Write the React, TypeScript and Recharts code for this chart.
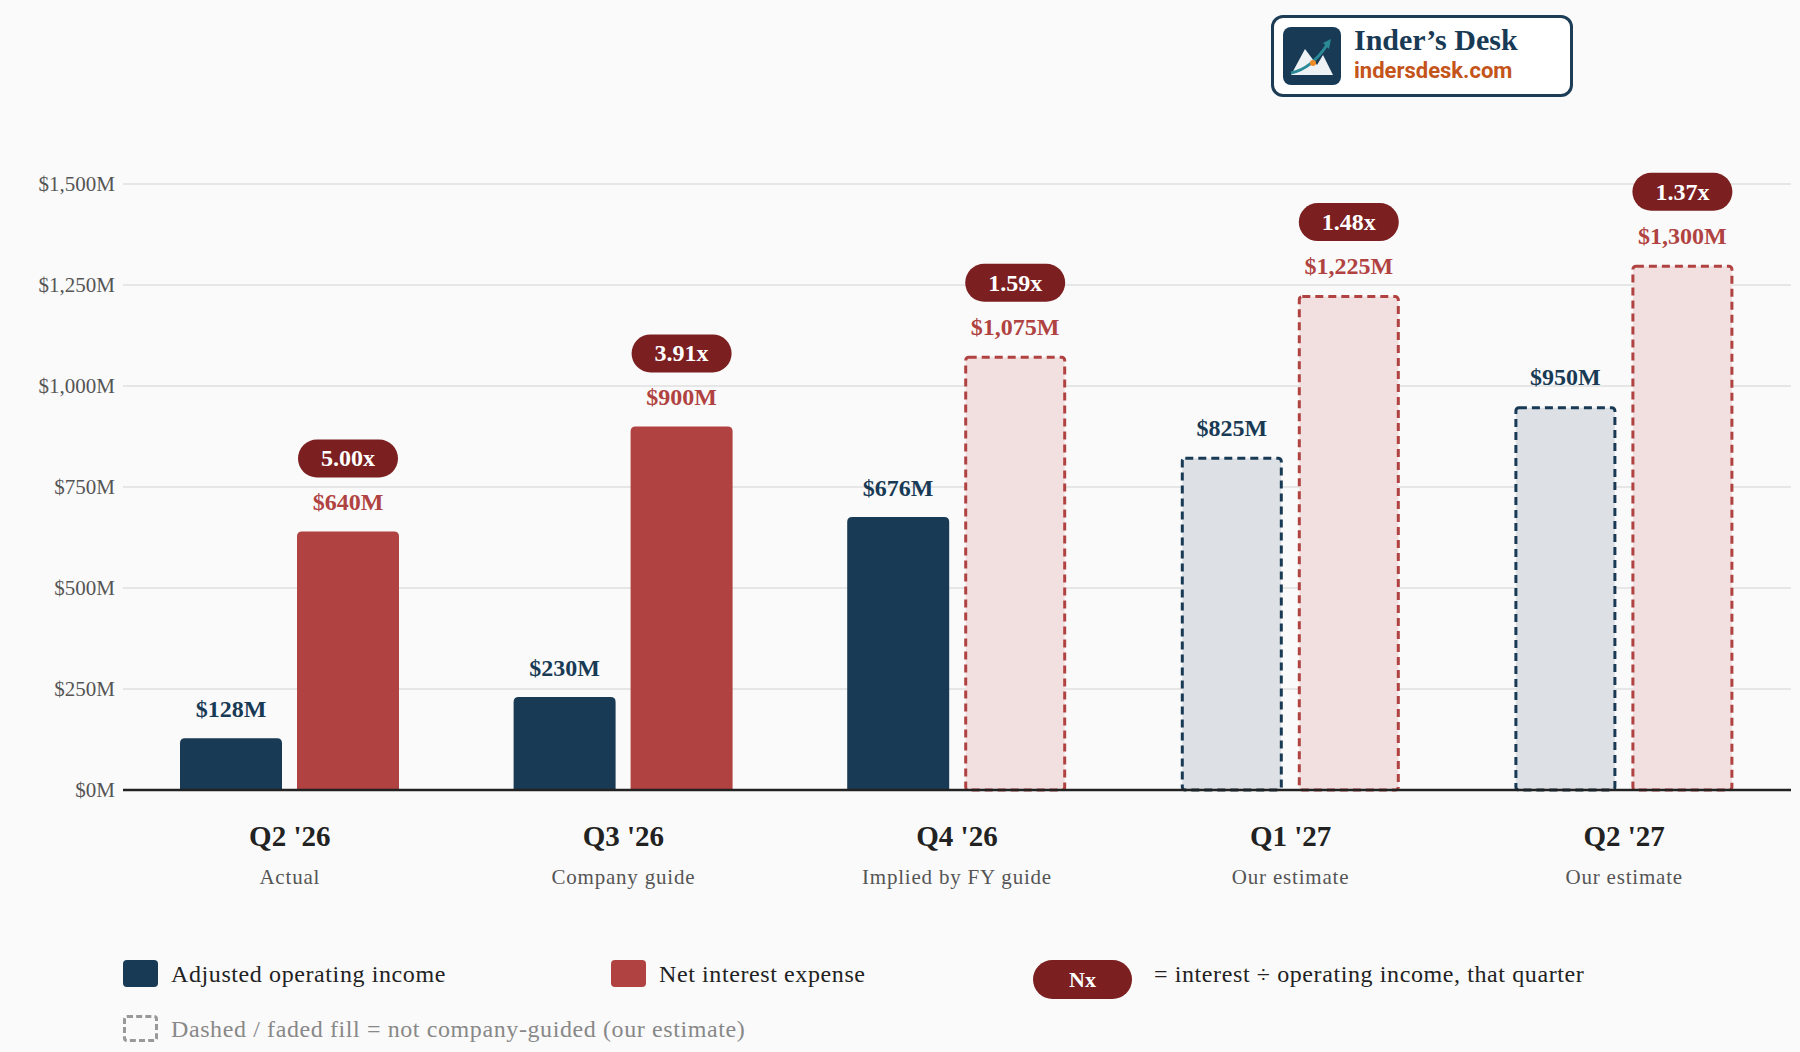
import { BarChart, Bar, XAxis, YAxis, CartesianGrid, LabelList } from "recharts";

const quarters = ["Q2 '26", "Q3 '26", "Q4 '26", "Q1 '27", "Q2 '27"];
const notes = ["Actual", "Company guide", "Implied by FY guide", "Our estimate", "Our estimate"];
const income = [128, 230, 676, 825, 950];
const interest = [640, 900, 1075, 1225, 1300];
const ratios = ["5.00x", "3.91x", "1.59x", "1.48x", "1.37x"];
const incomeEst = [false, false, false, true, true];
const interestEst = [false, false, true, true, true];
const yTicks = [0, 250, 500, 750, 1000, 1250, 1500];

const data = quarters.map((q, i) => ({
    q,
    note: notes[i],
    income: income[i],
    interest: interest[i],
    ratio: ratios[i],
    incomeEst: incomeEst[i],
    interestEst: interestEst[i],
}));

const NAVY = "#193a55";
const RED = "#b04241";
const BADGE = "#7b1f20";
const SERIF = "'Liberation Serif', 'DejaVu Serif', serif";

const fmt = (v: number) => "$" + v.toLocaleString("en-US") + "M";

const makeShape = (color: string, faded: string, key: string) => (p: any) => {
    const { x, y, width, height, payload } = p;
    const est = payload[key];
    if (est) {
        return (
            <rect x={x + 1.5} y={y + 1.5} width={width - 3} height={height - 1.5}
                fill={faded} stroke={color} strokeWidth={3} strokeDasharray="8 5" rx={3} />
        );
    }
    const r = 5;
    const d = `M${x},${y + height} L${x},${y + r} Q${x},${y} ${x + r},${y} L${x + width - r},${y} Q${x + width},${y} ${x + width},${y + r} L${x + width},${y + height} Z`;
    return <path d={d} fill={color} />;
};

const ValueLabel = (color: string, badge: boolean) => (p: any) => {
    const { x, y, width, index } = p;
    const cx = x + width / 2;
    const v = badge ? interest[index] : income[index];
    return (
        <g>
            <text x={cx} y={y - 21} textAnchor="middle" fill={color}
                fontFamily={SERIF} fontWeight="bold" fontSize={24}>{fmt(v)}</text>
            {badge && (
                <g>
                    <rect x={cx - 50} y={y - 92} width={100} height={38} rx={19} fill={BADGE} />
                    <text x={cx} y={y - 65} textAnchor="middle" fill="#fff"
                        fontFamily={SERIF} fontWeight="bold" fontSize={24}>{ratios[index]}</text>
                </g>
            )}
        </g>
    );
};

const CatTick = (p: any) => {
    const { x, y, payload } = p;
    return (
        <g>
            <text x={x} y={y + 48} textAnchor="middle" fill="#222" fontFamily={SERIF}
                fontWeight="bold" fontSize={29}>{payload.value}</text>
            <text x={x} y={y + 86} textAnchor="middle" fill="#555" fontFamily={SERIF}
                fontSize={21} letterSpacing={0.8}>{notes[payload.index]}</text>
        </g>
    );
};

const swatch = (bg: string, extra: any = {}) => ({
    position: "absolute" as const, width: 35, height: 27, borderRadius: 4, background: bg, ...extra,
});

const text = (left: number, top: number, color = "#222") => ({
    position: "absolute" as const, left, top, fontFamily: SERIF, fontSize: 24, letterSpacing: 0.6, color, whiteSpace: "nowrap" as const,
});

export default function App() {
    return (
        <div style={{ position: "absolute", left: 0, top: 0, width: 1800, height: 1052, background: "#fafafa" }}>
            <BarChart width={1800} height={1052} data={data} barSize={102} barGap={15}
                margin={{ top: 184, right: 9, left: 0, bottom: 0 }}>
                <CartesianGrid vertical={false} stroke="#e6e6e6" strokeWidth={2} />
                <YAxis domain={[0, 1500]} ticks={yTicks} width={123} axisLine={false} tickLine={false}
                    tickFormatter={fmt} tick={{ fill: "#555", fontFamily: SERIF, fontSize: 21 }} />
                <XAxis dataKey="q" height={262} tick={<CatTick />} tickLine={false}
                    axisLine={{ stroke: "#222", strokeWidth: 2.5 }} interval={0} />
                <Bar dataKey="income" isAnimationActive={false} shape={makeShape(NAVY, "#dde1e6", "incomeEst")}>
                    <LabelList dataKey="income" content={ValueLabel(NAVY, false)} />
                </Bar>
                <Bar dataKey="interest" isAnimationActive={false} shape={makeShape(RED, "#f1e0df", "interestEst")}>
                    <LabelList dataKey="interest" content={ValueLabel(RED, true)} />
                </Bar>
            </BarChart>

            <div style={{ position: "absolute", left: 1271, top: 15, width: 296, height: 76, border: "3px solid #1d3d57", borderRadius: 12, background: "#fff" }}>
                <svg width={58} height={58} style={{ position: "absolute", left: 9, top: 9 }}>
                    <rect width={58} height={58} rx={8} fill="#183a55" />
                    <polygon points="8,48 22,22 34,38 40,28 50,48" fill="#eef2f5" />
                    <path d="M8,46 Q28,42 44,18" stroke="#2a8a96" strokeWidth={3} fill="none" />
                    <polygon points="40,16 48,12 46,22" fill="#2a8a96" />
                    <circle cx={30} cy={36} r={3} fill="#f08a24" />
                </svg>
                <div style={{ position: "absolute", left: 80, top: 5, fontFamily: SERIF, fontWeight: "bold", fontSize: 30, color: "#193a55" }}>Inder’s Desk</div>
                <div style={{ position: "absolute", left: 80, top: 40, fontFamily: "Roboto, sans-serif", fontWeight: "bold", fontSize: 22, color: "#c4541a" }}>indersdesk.com</div>
            </div>

            <div style={swatch(NAVY, { left: 123, top: 960 })} />
            <div style={text(171, 961)}>Adjusted operating income</div>
            <div style={swatch(RED, { left: 611, top: 960 })} />
            <div style={text(659, 961)}>Net interest expense</div>
            <div style={{ position: "absolute", left: 1033, top: 960, width: 99, height: 39, borderRadius: 20, background: BADGE, color: "#fff", fontFamily: SERIF, fontWeight: "bold", fontSize: 22, textAlign: "center", lineHeight: "39px" }}>Nx</div>
            <div style={text(1154, 961)}>= interest ÷ operating income, that quarter</div>
            <div style={swatch("transparent", { left: 123, top: 1015, border: "3px dashed #999", boxSizing: "border-box" })} />
            <div style={text(171, 1016, "#888")}>Dashed / faded fill = not company-guided (our estimate)</div>
        </div>
    );
}
